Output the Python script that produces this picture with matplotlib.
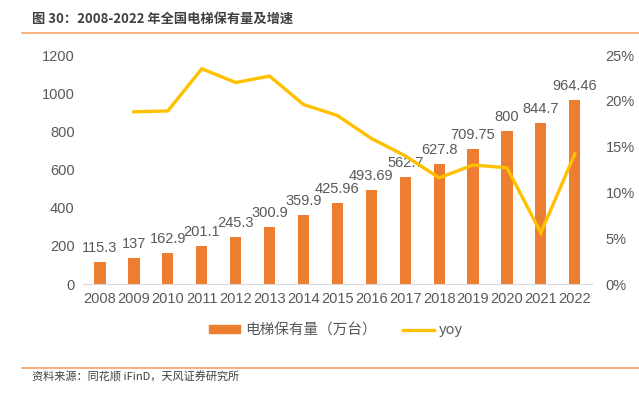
import matplotlib
matplotlib.use("Agg")
import matplotlib.pyplot as plt
from matplotlib.ticker import FuncFormatter, MultipleLocator
from matplotlib.lines import Line2D
from matplotlib.patches import Patch

plt.rcParams['font.family'] = ['Noto Sans CJK SC', 'DejaVu Sans']

years = ['2008', '2009', '2010', '2011', '2012', '2013', '2014', '2015',
         '2016', '2017', '2018', '2019', '2020', '2021', '2022']
stock = [115.3, 137, 162.9, 201.1, 245.3, 300.9, 359.9, 425.96,
         493.69, 562.7, 627.8, 709.75, 800, 844.7, 964.46]
stock_labels = ['115.3', '137', '162.9', '201.1', '245.3', '300.9', '359.9', '425.96',
                '493.69', '562.7', '627.8', '709.75', '800', '844.7', '964.46']
yoy = [None, 0.188, 0.189, 0.235, 0.220, 0.227, 0.196, 0.184,
       0.159, 0.140, 0.116, 0.130, 0.127, 0.056, 0.142]

grey = '#595959'
bar_c = '#ED7D31'
line_c = '#FFC000'
num_font = ['Liberation Sans Narrow', 'Liberation Sans', 'DejaVu Sans']

fig = plt.figure(figsize=(6.39, 3.93), dpi=100)
ax = fig.add_axes([0.130, 0.277, 0.796, 0.583])
x = list(range(len(years)))
ax.bar(x, stock, width=0.33, color=bar_c, zorder=2)
for xi, v, lab in zip(x, stock, stock_labels):
    ax.annotate(lab, (xi, v), xytext=(0, 5), textcoords='offset points',
                ha='center', va='bottom', fontsize=10.5, color=grey, family=num_font)
ax.set_ylim(0, 1200)
ax.set_xlim(-0.5, len(years) - 0.5)
ax.yaxis.set_major_locator(MultipleLocator(200))
ax.set_xticks(x)
ax.set_xticklabels(years)
for s in ['top', 'right', 'left']:
    ax.spines[s].set_visible(False)
ax.spines['bottom'].set_color('#D9D9D9')
ax.tick_params(axis='both', length=0, colors=grey, labelsize=10.5, pad=6)
for t in ax.get_xticklabels() + ax.get_yticklabels():
    t.set_family(num_font)

ax2 = ax.twinx()
xs = [xi for xi, v in zip(x, yoy) if v is not None]
ys = [v for v in yoy if v is not None]
ax2.plot(xs, ys, color=line_c, lw=2.4, solid_joinstyle='miter', zorder=3)
ax2.set_ylim(0, 0.25)
ax2.yaxis.set_major_locator(MultipleLocator(0.05))
ax2.yaxis.set_major_formatter(FuncFormatter(lambda v, p: f'{v*100:.0f}%'))
for s in ['top', 'right', 'left', 'bottom']:
    ax2.spines[s].set_visible(False)
ax2.tick_params(axis='y', length=0, colors=grey, labelsize=10.5, pad=10)
for t in ax2.get_yticklabels():
    t.set_family(num_font)

handles = [Patch(color=bar_c), Line2D([0], [0], color=line_c, lw=2.4)]
leg = fig.legend(handles, ['电梯保有量（万台）', 'yoy'], loc='center',
                 bbox_to_anchor=(0.526, 0.16), ncol=2, frameon=False,
                 fontsize=10.5, handlelength=2.1, handleheight=0.45,
                 columnspacing=1.8, handletextpad=0.35)
for t in leg.get_texts():
    t.set_color(grey)

fig.text(0.050, 0.952, '图 30：2008-2022 年全国电梯保有量及增速', fontsize=9.5,
         fontweight='bold', color='#404040', va='center', ha='left')
fig.add_artist(Line2D([0.034, 1.0], [0.916, 0.916], color='#F4A46A', lw=1.2))
fig.add_artist(Line2D([0.034, 1.0], [0.064, 0.064], color='#F4A46A', lw=1.2))
fig.text(0.050, 0.040, '资料来源：同花顺 iFinD，天风证券研究所', fontsize=8,
         color='#404040', va='center', ha='left')

fig.savefig('out.png', dpi=100)
